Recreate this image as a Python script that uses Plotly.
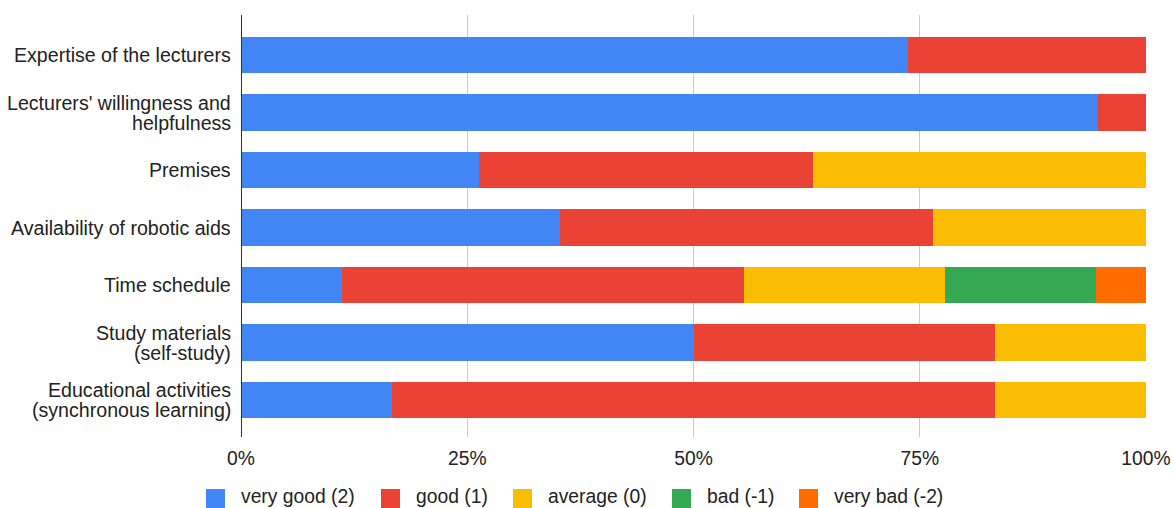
import plotly.graph_objects as go

# Survey categories (top to bottom)
categories = [
    "Expertise of the lecturers",
    "Lecturers' willingness and<br>helpfulness",
    "Premises",
    "Availability of robotic aids",
    "Time schedule",
    "Study materials<br>(self-study)",
    "Educational activities<br>(synchronous learning)",
]

# Response counts per rating level
very_good = [14, 18, 5, 6, 2, 9, 3]
good = [5, 1, 7, 7, 8, 6, 12]
average = [0, 0, 7, 4, 4, 3, 3]
bad = [0, 0, 0, 0, 3, 0, 0]
very_bad = [0, 0, 0, 0, 1, 0, 0]

series_names = ["very good (2)", "good (1)", "average (0)", "bad (-1)", "very bad (-2)"]
series_values = [very_good, good, average, bad, very_bad]
series_colors = ["#4285F4", "#EA4335", "#FBBC04", "#34A853", "#FF6D01"]

tick_vals = [0, 25, 50, 75, 100]
tick_text = ["0%", "25%", "50%", "75%", "100%"]

FONT = "Liberation Sans, Arial, sans-serif"
FS = 19.3
FS_CAT = 19.6
TXT = "#222222"
LINE_GAP = 20  # px between wrapped category label lines

W, H = 1173, 508
ML, MR, MT, MB = 241, 27, 15, 71
PW, PH = W - ML - MR, H - MT - MB


def px_x(px):
    return (px - ML) / PW


def px_y(py):
    return (H - MB - py) / PH


fig = go.Figure()
for name, vals, col in zip(series_names, series_values, series_colors):
    fig.add_trace(go.Bar(
        y=categories,
        x=vals,
        name=name,
        orientation="h",
        marker=dict(color=col, line=dict(width=0)),
        width=0.64,
        showlegend=False,
    ))

shapes = [dict(
    type="line", xref="x", yref="paper",
    x0=0, x1=0, y0=0, y1=1,
    line=dict(color="#333333", width=2),
)]
annotations = []

# Category labels, wrapped lines set close together
for cat in categories:
    lines = cat.split("<br>")
    n = len(lines)
    for j, line in enumerate(lines):
        annotations.append(dict(
            xref="paper", yref="y",
            x=0, y=cat,
            xanchor="right", yanchor="middle",
            xshift=-8, yshift=((n - 1) / 2 - j) * LINE_GAP,
            text=line, showarrow=False,
            font=dict(family=FONT, size=FS_CAT, color=TXT),
        ))

# Custom legend row along the bottom
legend_left = [206, 381, 513, 672, 799]
box = 19
for name, col, lx in zip(series_names, series_colors, legend_left):
    shapes.append(dict(
        type="rect", xref="paper", yref="paper",
        x0=px_x(lx), x1=px_x(lx + box),
        y0=px_y(489 + box), y1=px_y(489),
        fillcolor=col, line=dict(width=0), layer="above",
    ))
    annotations.append(dict(
        xref="paper", yref="paper",
        x=px_x(lx + box + 14), y=px_y(497),
        xanchor="left", yanchor="middle",
        text=name, showarrow=False,
        font=dict(family=FONT, size=FS, color=TXT),
    ))

fig.update_layout(
    barmode="stack",
    barnorm="percent",
    width=W,
    height=H,
    margin=dict(l=ML, r=MR, t=MT, b=MB, autoexpand=False),
    paper_bgcolor="white",
    plot_bgcolor="white",
    font=dict(family=FONT, size=FS, color=TXT),
    showlegend=False,
    xaxis=dict(
        range=[0, 100],
        tickvals=tick_vals,
        ticktext=tick_text,
        showgrid=True,
        gridcolor="#cccccc",
        gridwidth=1,
        zeroline=False,
        showline=False,
        ticks="",
        tickfont=dict(size=FS, color=TXT),
        ticklabelstandoff=8,
        automargin=False,
    ),
    yaxis=dict(
        type="category",
        categoryorder="array",
        categoryarray=categories,
        range=[6.643, -0.696],
        showgrid=False,
        zeroline=False,
        ticks="",
        showticklabels=False,
        automargin=False,
    ),
    shapes=shapes,
    annotations=annotations,
)

fig.write_html("out.html")
